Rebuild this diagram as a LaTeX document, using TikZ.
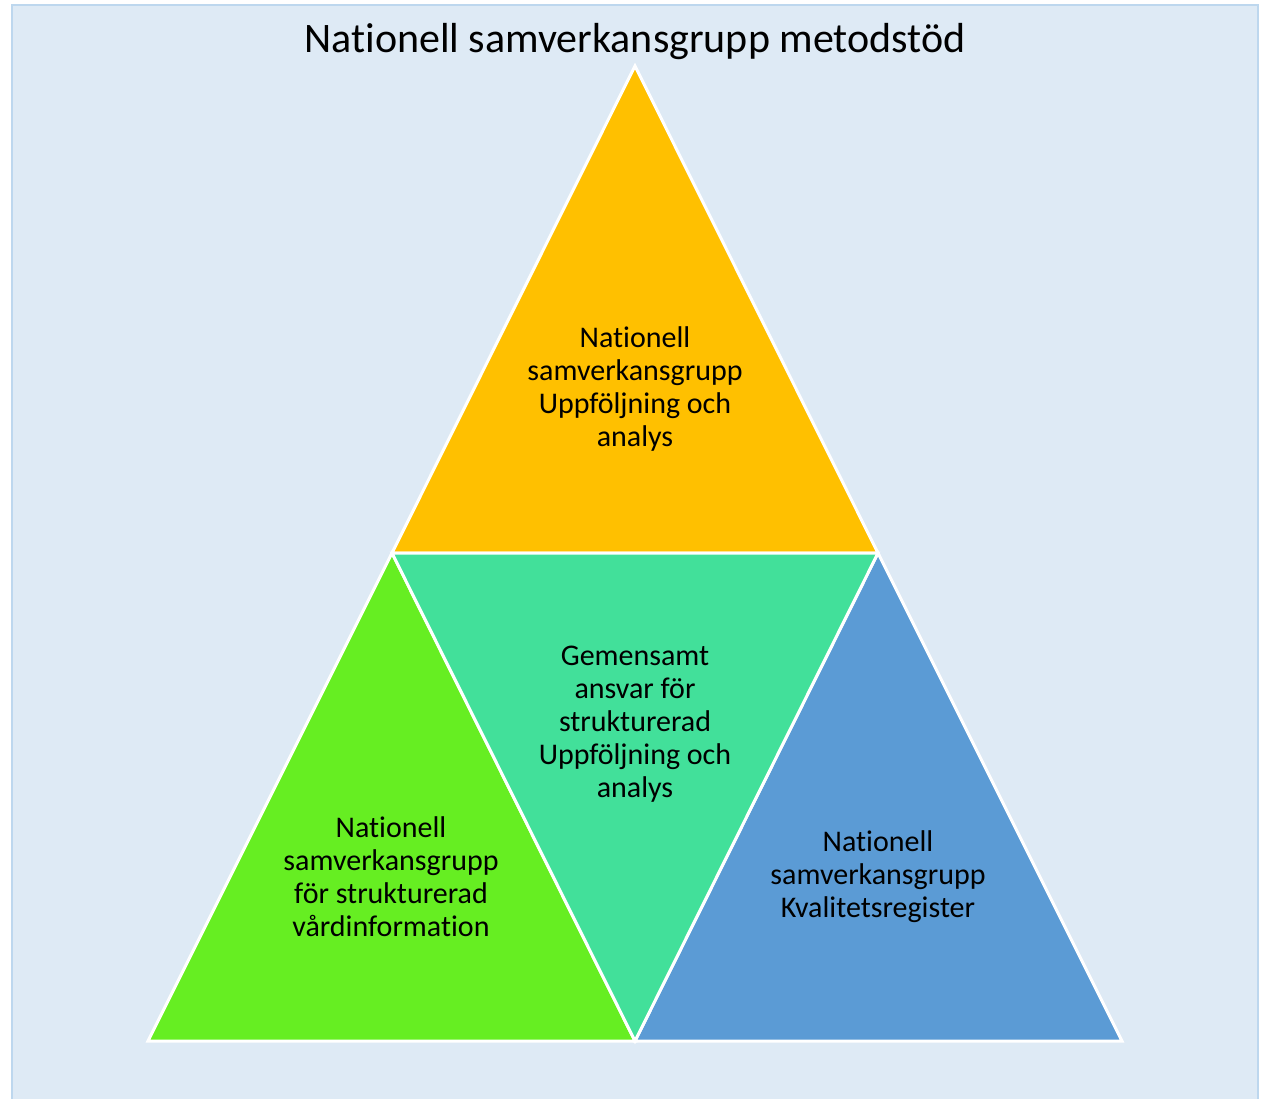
\documentclass[tikz,border=0pt]{standalone}
\usepackage{fontspec}
\setmainfont[Ligatures={NoCommon}]{Carlito}
\definecolor{bgfill}{HTML}{DEEAF5}
\definecolor{bgline}{HTML}{BDD7EE}
\definecolor{topc}{HTML}{FFC000}
\definecolor{leftc}{HTML}{66EE22}
\definecolor{midc}{HTML}{42E09A}
\definecolor{rightc}{HTML}{5B9BD5}
\tikzset{
  tri/.style={draw=white,line width=3pt,line join=miter},
  lbl/.style={align=center,font=\fontsize{30}{33}\selectfont,text=black,inner sep=0pt},
  ttl/.style={font=\fontsize{42}{45}\selectfont,text=black,inner sep=0pt}
}
\begin{document}
\begin{tikzpicture}[x=1pt,y=-1pt]
\useasboundingbox (0,0) rectangle (1269,1099);
\fill[bgfill] (12,5) rectangle (1258,1110);
\draw[bgline,line width=2.5pt] (12,1110) -- (12,5) -- (1258,5) -- (1258,1110);
\coordinate (A) at (635,66);
\coordinate (B) at (392,553);
\coordinate (C) at (878,553);
\coordinate (D) at (148,1041);
\coordinate (E) at (635,1041);
\coordinate (F) at (1122,1041);
\filldraw[tri,fill=topc] (A) -- (B) -- (C) -- cycle;
\filldraw[tri,fill=leftc] (B) -- (D) -- (E) -- cycle;
\filldraw[tri,fill=rightc] (C) -- (E) -- (F) -- cycle;
\filldraw[tri,fill=midc] (B) -- (C) -- (E) -- cycle;
\node[ttl] (title) at (635,42) {Nationell samverkansgrupp metodstöd};
\node[lbl] (ttop) at (635,389) {Nationell\\samverkansgrupp\\Uppföljning och\\analys};
\node[lbl] (tmid) at (635,724) {Gemensamt\\ansvar för\\strukturerad\\Uppföljning och\\analys};
\node[lbl] (tleft) at (391,876.5) {Nationell\\samverkansgrupp\\för strukturerad\\vårdinformation};
\node[lbl] (tright) at (878,877) {Nationell\\samverkansgrupp\\Kvalitetsregister};
\end{tikzpicture}
\end{document}
